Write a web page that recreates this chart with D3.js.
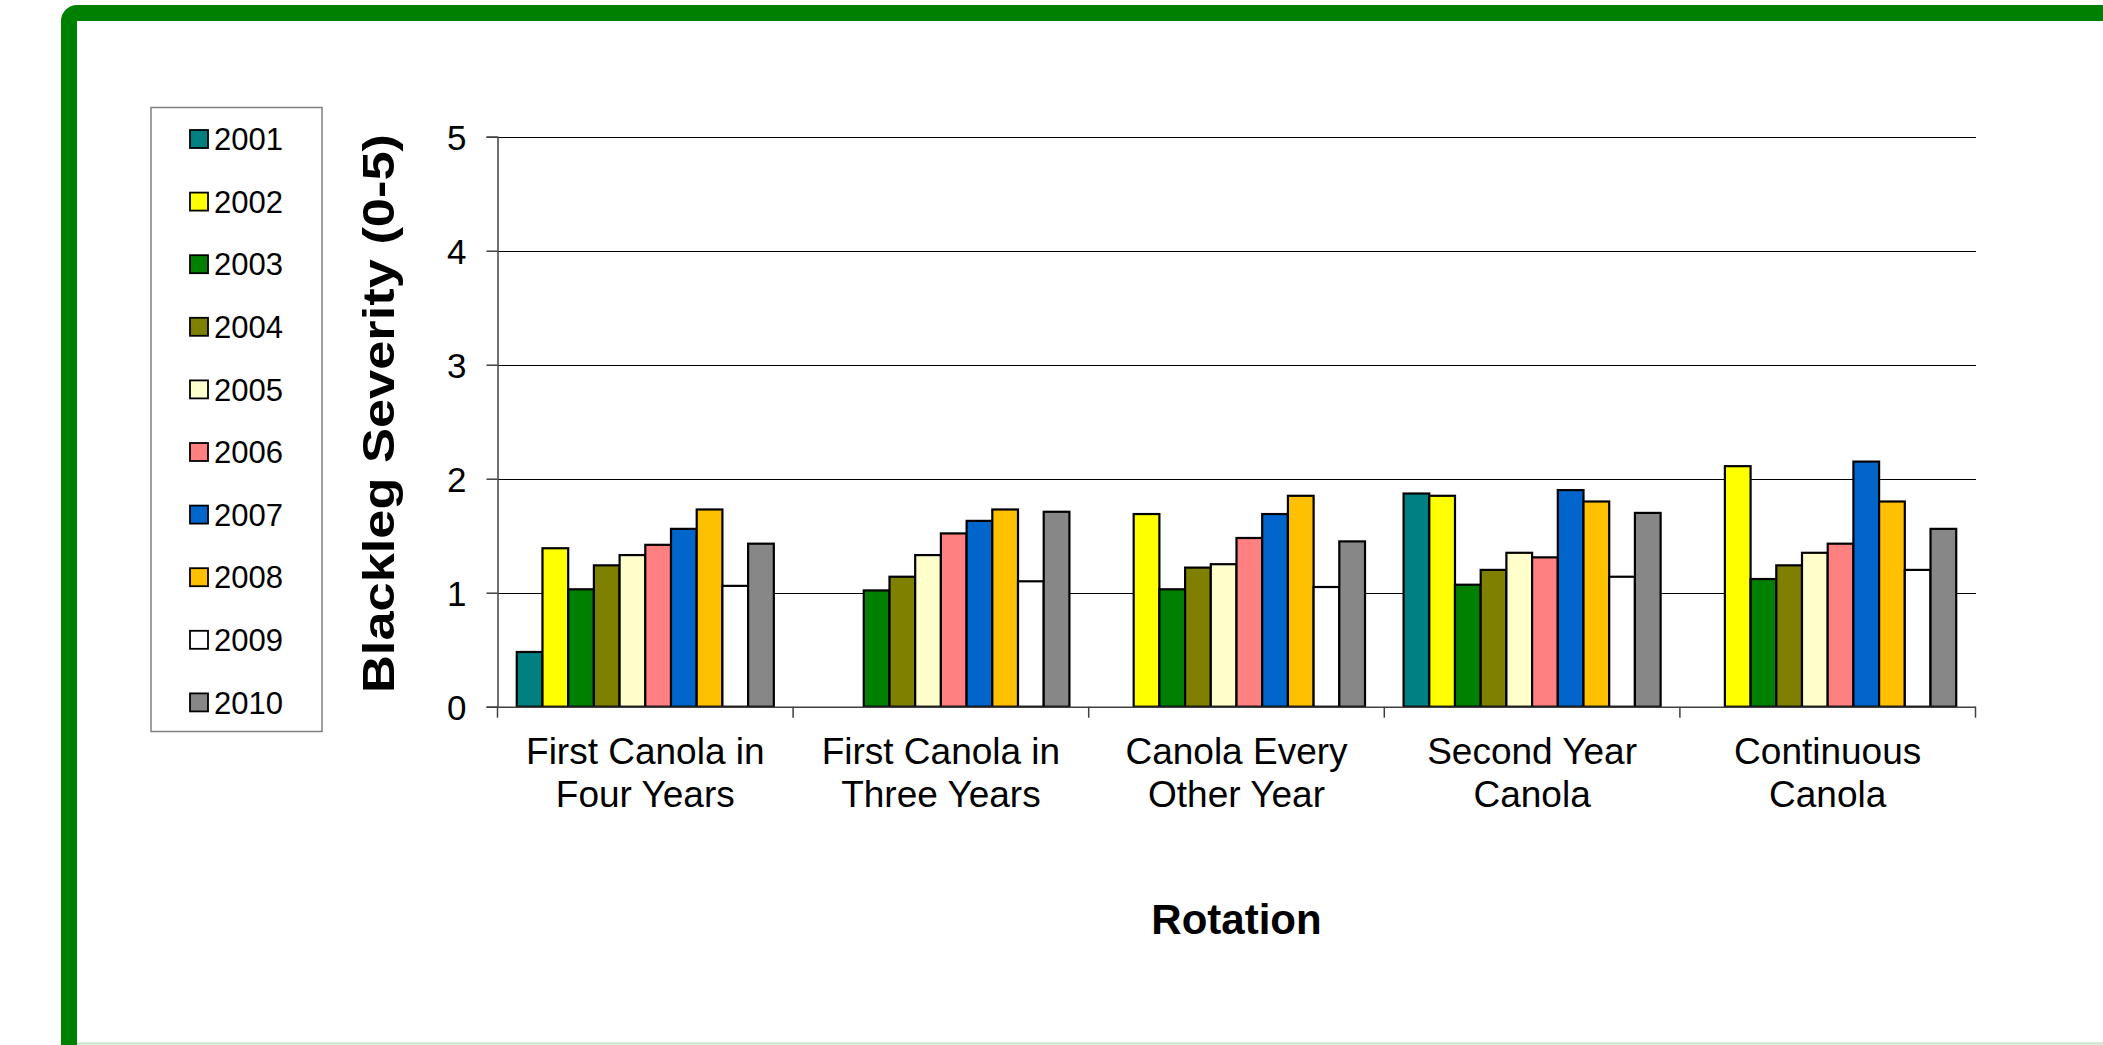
<!DOCTYPE html>
<html>
<head>
<meta charset="utf-8">
<script src="https://cdn.jsdelivr.net/npm/d3@7"></script>
<style>
  html, body { margin: 0; padding: 0; background: #fff; overflow: hidden; }
  svg { display: block; font-family: "Liberation Sans", Arial, sans-serif; }
</style>
</head>
<body>
<svg id="chart" width="2103" height="1045"></svg>
<script>
// ---- data ----
const categories = [
  ["First Canola in", "Four Years"],
  ["First Canola in", "Three Years"],
  ["Canola Every", "Other Year"],
  ["Second Year", "Canola"],
  ["Continuous", "Canola"]
];
const years = ["2001", "2002", "2003", "2004", "2005", "2006", "2007", "2008", "2009", "2010"];
const colors = ["#008080", "#FFFF00", "#008000", "#808000", "#FFFFCC", "#FF8080", "#0066CC", "#FFC000", "#FFFFFF", "#878787"];
// values per year, one per category (null = no data)
const v2001 = [0.48, null, null, 1.87, null];
const v2002 = [1.39, null, 1.69, 1.85, 2.11];
const v2003 = [1.03, 1.02, 1.03, 1.07, 1.12];
const v2004 = [1.24, 1.14, 1.22, 1.20, 1.24];
const v2005 = [1.33, 1.33, 1.25, 1.35, 1.35];
const v2006 = [1.42, 1.52, 1.48, 1.31, 1.43];
const v2007 = [1.56, 1.63, 1.69, 1.90, 2.15];
const v2008 = [1.73, 1.73, 1.85, 1.80, 1.80];
const v2009 = [1.06, 1.10, 1.05, 1.14, 1.20];
const v2010 = [1.43, 1.71, 1.45, 1.70, 1.56];
const seriesValues = [v2001, v2002, v2003, v2004, v2005, v2006, v2007, v2008, v2009, v2010];
const yTicks = [0, 1, 2, 3, 4, 5];
const yTitle = "Blackleg Severity (0-5)";
const xTitle = "Rotation";

// ---- layout ----
const svg = d3.select("#chart");
const plot = { left: 497.5, right: 1975.5, top: 136.7, bottom: 706.7 };

// frame
svg.append("rect")
  .attr("x", 69).attr("y", 13)
  .attr("width", 2200).attr("height", 1200)
  .attr("rx", 8).attr("ry", 8)
  .attr("fill", "none").attr("stroke", "#008000").attr("stroke-width", 16);
svg.append("line")
  .attr("x1", 77).attr("x2", 2103).attr("y1", 1043.5).attr("y2", 1043.5)
  .attr("stroke", "#c4e4c4").attr("stroke-width", 2);

const catIdx = categories.map((d, i) => i);
const x0 = d3.scaleBand().domain(catIdx).range([plot.left, plot.right]).padding(0);
const x1 = d3.scaleBand().domain(years).range([0, x0.bandwidth()]).paddingInner(0).paddingOuter(0.75);
const y = d3.scaleLinear().domain([0, 5]).range([plot.bottom, plot.top]);

// gridlines
svg.append("g")
  .attr("transform", `translate(${plot.left},0)`)
  .call(d3.axisLeft(y).tickValues(yTicks.slice(1)).tickSize(-(plot.right - plot.left)).tickFormat(""))
  .call(g => g.select(".domain").remove())
  .call(g => g.selectAll("line").attr("stroke", "#000").attr("stroke-width", 1.2).attr("shape-rendering", "crispEdges"));

// bars
const table = [];
seriesValues.forEach((vals, si) => {
  vals.forEach((v, ci) => { if (v !== null) table.push({ year: years[si], color: colors[si], cat: ci, value: v }); });
});
svg.append("g").selectAll("rect").data(table).join("rect")
  .attr("x", d => x0(d.cat) + x1(d.year))
  .attr("y", d => y(d.value))
  .attr("width", x1.bandwidth())
  .attr("height", d => y(0) - y(d.value))
  .attr("fill", d => d.color)
  .attr("stroke", "#000").attr("stroke-width", 2.2);

// y axis
const yAxis = svg.append("g")
  .attr("transform", `translate(${plot.left},0)`)
  .call(d3.axisLeft(y).tickValues(yTicks).tickSize(11).tickPadding(20).tickFormat(d3.format("d")));
yAxis.select(".domain").attr("stroke", "#404040").attr("stroke-width", 1.5);
yAxis.selectAll(".tick line").attr("stroke", "#404040").attr("stroke-width", 1.5);
yAxis.selectAll(".tick text").attr("font-size", 35).attr("fill", "#000")
  .attr("font-family", "Liberation Sans, Arial, sans-serif").attr("dy", "0.36em");

// x axis
const xAxis = svg.append("g")
  .attr("transform", `translate(0,${plot.bottom})`)
  .call(d3.axisBottom(x0).tickSize(0).tickFormat(""));
xAxis.select(".domain").attr("stroke", "#404040").attr("stroke-width", 1.5);
const boundaries = catIdx.map(i => x0(i)).concat([plot.right]);
xAxis.selectAll(".bound").data(boundaries).join("line")
  .attr("class", "bound")
  .attr("x1", d => d).attr("x2", d => d).attr("y1", 0).attr("y2", 11)
  .attr("stroke", "#404040").attr("stroke-width", 1.5);

// category labels
const catLabels = svg.append("g").selectAll("text").data(categories).join("text")
  .attr("x", (d, i) => x0(i) + x0.bandwidth() / 2)
  .attr("y", 764)
  .attr("text-anchor", "middle")
  .attr("font-size", 37).attr("fill", "#000");
catLabels.selectAll("tspan").data(d => d).join("tspan")
  .attr("x", function () { return d3.select(this.parentNode).attr("x"); })
  .attr("dy", (d, i) => i === 0 ? 0 : 43)
  .text(d => d);

// axis titles
svg.append("text")
  .attr("transform", `translate(394,${(134 + 693) / 2}) rotate(-90)`)
  .attr("text-anchor", "middle")
  .attr("font-size", 45).attr("font-weight", "bold")
  .attr("textLength", 559).attr("lengthAdjust", "spacingAndGlyphs")
  .text(yTitle);
svg.append("text")
  .attr("x", (plot.left + plot.right) / 2).attr("y", 934)
  .attr("text-anchor", "middle")
  .attr("font-size", 42).attr("font-weight", "bold")
  .text(xTitle);

// legend
const legend = svg.append("g");
legend.append("rect")
  .attr("x", 151).attr("y", 107.5).attr("width", 171).attr("height", 624)
  .attr("fill", "#fff").attr("stroke", "#808080").attr("stroke-width", 1.5);
const ly = d3.scalePoint().domain(years).range([139, 139 + 9 * 62.6]);
const items = legend.selectAll("g.item").data(years).join("g")
  .attr("class", "item")
  .attr("transform", d => `translate(0,${ly(d)})`);
items.append("rect")
  .attr("x", 190).attr("y", -9).attr("width", 18).attr("height", 18)
  .attr("fill", (d, i) => colors[i]).attr("stroke", "#000").attr("stroke-width", 1.8);
items.append("text")
  .attr("x", 214).attr("y", 0).attr("dy", "0.36em")
  .attr("font-size", 31).attr("fill", "#000")
  .text(d => d);
</script>
</body>
</html>
